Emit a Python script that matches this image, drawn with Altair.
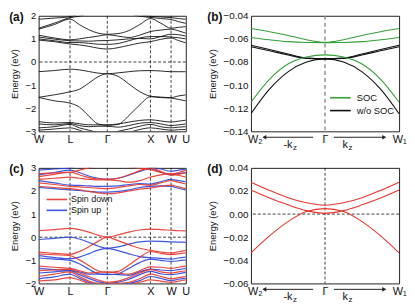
import altair as alt
import pandas as pd

# ---------------- data ----------------
# k-path coordinate (W-L-Γ-X-W-U) and high-symmetry points
K_PATH = [0, 16, 32, 41.5, 51, 60.5, 70, 81, 92, 103, 114, 124.5, 135, 142.5, 150]
HS_POS = [0, 32, 70, 114, 135, 150]
HS_LABELS = ["W", "L", "Γ", "X", "W", "U"]
HS_GUIDES = [32, 70, 114, 135]

# (a) bands, energy in eV along K_PATH
A_BANDS = [
    [-0.42, -0.37, -0.31, -0.34, -0.41, -0.48, -0.51, -0.47, -0.42, -0.38, -0.37, -0.39, -0.42, -0.42, -0.42],
    [-1.53, -1.42, -1.29, -1.18, -0.92, -0.64, -0.51, -0.62, -0.95, -1.28, -1.48, -1.52, -1.54, -1.47, -1.42],
    [-1.53, -1.68, -1.78, -1.95, -2.33, -2.68, -2.74, -2.70, -2.32, -1.86, -1.50, -1.54, -1.56, -1.62, -1.68],
    [-2.58, -2.64, -2.62, -2.67, -2.72, -2.72, -2.72, -2.68, -2.60, -2.53, -2.50, -2.55, -2.60, -2.56, -2.52],
    [-2.68, -2.72, -2.66, -2.75, -2.80, -2.78, -2.78, -2.82, -2.75, -2.65, -2.62, -2.68, -2.75, -2.72, -2.68],
    [-2.85, -2.80, -2.70, -2.85, -2.95, -3.05, -3.10, -3.00, -2.90, -2.78, -2.70, -2.80, -2.85, -2.82, -2.80],
    [-2.95, -2.90, -2.85, -2.95, -3.10, -3.20, -3.25, -3.15, -3.05, -2.92, -2.85, -2.90, -2.95, -2.93, -2.92],
    [0.95, 0.88, 0.78, 0.74, 0.68, 0.60, 0.56, 0.62, 0.72, 0.82, 0.88, 0.98, 1.04, 0.93, 0.83],
    [1.00, 0.92, 0.84, 0.84, 0.81, 0.77, 0.76, 0.80, 0.92, 1.04, 1.10, 1.10, 1.08, 1.05, 1.00],
    [1.08, 0.99, 0.92, 0.91, 0.90, 0.92, 0.93, 0.96, 1.00, 1.02, 1.00, 1.10, 1.20, 1.18, 1.12],
    [1.16, 1.04, 0.96, 1.00, 1.06, 1.12, 1.18, 1.12, 1.06, 1.16, 1.32, 1.38, 1.42, 1.35, 1.25],
    [1.42, 1.62, 1.86, 1.62, 1.40, 1.25, 1.20, 1.23, 1.36, 1.62, 1.88, 1.68, 1.46, 1.50, 1.53],
    [1.46, 1.68, 1.92, 1.98, 2.10, 2.25, 2.35, 2.25, 2.10, 1.98, 1.93, 1.88, 1.84, 1.75, 1.67],
    [1.85, 1.90, 1.96, 2.10, 2.30, 2.45, 2.50, 2.40, 2.20, 2.05, 1.98, 1.95, 1.92, 1.88, 1.85],
]

# (c) spin-resolved bands along K_PATH
C_SPIN_DOWN = [
    [0.28, 0.33, 0.38, 0.33, 0.22, 0.09, 0.00, 0.10, 0.22, 0.31, 0.35, 0.33, 0.30, 0.28, 0.27],
    [-0.64, -0.70, -0.74, -0.62, -0.42, -0.18, 0.00, -0.15, -0.32, -0.48, -0.57, -0.64, -0.69, -0.63, -0.57],
    [-0.72, -0.76, -0.80, -0.98, -1.22, -1.45, -1.52, -1.48, -1.20, -0.88, -0.62, -0.70, -0.75, -0.72, -0.68],
    [-1.25, -1.30, -1.35, -1.45, -1.55, -1.52, -1.50, -1.55, -1.60, -1.45, -1.28, -1.30, -1.35, -1.30, -1.25],
    [-1.45, -1.42, -1.38, -1.55, -1.70, -1.85, -1.95, -1.90, -1.75, -1.55, -1.40, -1.50, -1.55, -1.50, -1.45],
    [-1.70, -1.60, -1.50, -1.70, -1.90, -2.00, -2.02, -2.00, -1.95, -1.80, -1.60, -1.70, -1.80, -1.75, -1.70],
    [-1.90, -1.85, -1.75, -1.85, -2.00, -2.10, -2.10, -2.10, -2.05, -1.95, -1.85, -1.90, -1.95, -1.90, -1.85],
    [2.20, 2.15, 2.10, 2.05, 1.98, 1.92, 1.88, 1.92, 2.00, 2.08, 2.12, 2.20, 2.25, 2.18, 2.10],
    [2.35, 2.28, 2.20, 2.18, 2.15, 2.12, 2.10, 2.15, 2.22, 2.28, 2.25, 2.35, 2.45, 2.38, 2.30],
    [2.50, 2.55, 2.60, 2.55, 2.50, 2.48, 2.48, 2.45, 2.38, 2.45, 2.60, 2.70, 2.75, 2.68, 2.60],
    [2.62, 2.72, 2.82, 2.70, 2.58, 2.52, 2.50, 2.55, 2.70, 2.88, 3.00, 2.85, 2.68, 2.72, 2.78],
    [2.75, 2.78, 2.80, 2.90, 3.00, 3.10, 3.20, 3.15, 3.05, 2.98, 2.92, 2.80, 2.72, 2.80, 2.90],
]
C_SPIN_UP = [
    [-0.10, -0.05, 0.00, -0.08, -0.22, -0.38, -0.48, -0.42, -0.30, -0.20, -0.17, -0.18, -0.20, -0.21, -0.22],
    [-0.80, -0.88, -0.93, -0.86, -0.72, -0.56, -0.48, -0.58, -0.72, -0.84, -0.88, -0.92, -0.95, -0.90, -0.86],
    [-0.90, -0.95, -1.00, -1.15, -1.38, -1.58, -1.62, -1.58, -1.35, -1.10, -0.95, -1.00, -1.05, -1.02, -0.98],
    [-1.35, -1.40, -1.45, -1.50, -1.60, -1.60, -1.60, -1.62, -1.65, -1.50, -1.38, -1.42, -1.45, -1.40, -1.35],
    [-1.55, -1.50, -1.45, -1.62, -1.78, -1.92, -2.00, -1.95, -1.82, -1.62, -1.48, -1.58, -1.62, -1.58, -1.52],
    [-1.80, -1.72, -1.60, -1.78, -1.95, -2.05, -2.08, -2.05, -2.00, -1.88, -1.70, -1.78, -1.88, -1.82, -1.78],
    [2.15, 2.10, 2.05, 2.02, 1.98, 1.95, 1.95, 1.98, 2.05, 2.15, 2.20, 2.22, 2.20, 2.12, 2.05],
    [2.45, 2.35, 2.25, 2.24, 2.22, 2.20, 2.20, 2.22, 2.28, 2.32, 2.30, 2.40, 2.50, 2.45, 2.40],
    [2.70, 2.80, 2.90, 2.80, 2.65, 2.55, 2.50, 2.55, 2.68, 2.85, 2.95, 2.82, 2.70, 2.75, 2.80],
    [2.90, 2.95, 3.00, 3.10, 3.20, 3.30, 3.35, 3.30, 3.20, 3.10, 3.05, 2.95, 2.85, 2.90, 2.95],
]
SPIN_NAMES = ["Spin down", "Spin up"]

# (b), (d): zoom around Γ along W2-Γ-W1
K_ZOOM = [-1, -0.75, -0.5, -0.25, 0, 0.25, 0.5, 0.75, 1]
ZOOM_POS = [-0.95, 0, 1]
ZOOM_LABELS = ["W₂", "Γ", "W₁"]
B_SOC = [
    [-0.0510, -0.0538, -0.0570, -0.0608, -0.0630, -0.0608, -0.0570, -0.0538, -0.0510],
    [-0.0588, -0.0608, -0.0624, -0.0631, -0.0632, -0.0631, -0.0624, -0.0608, -0.0588],
    [-0.1148, -0.0950, -0.0818, -0.0757, -0.0738, -0.0757, -0.0818, -0.0950, -0.1148],
]
B_NOSOC = [
    [-0.0655, -0.0692, -0.0730, -0.0766, -0.0773, -0.0766, -0.0730, -0.0692, -0.0655],
    [-0.0668, -0.0703, -0.0739, -0.0769, -0.0773, -0.0769, -0.0739, -0.0703, -0.0668],
    [-0.1248, -0.1035, -0.0885, -0.0800, -0.0773, -0.0800, -0.0885, -0.1035, -0.1248],
]
SOC_NAMES = ["SOC", "w/o SOC"]
D_BANDS = [
    [0.0276, 0.0205, 0.0142, 0.0098, 0.0077, 0.0098, 0.0142, 0.0205, 0.0276],
    [0.0209, 0.0140, 0.0080, 0.0030, 0.0006, 0.0030, 0.0080, 0.0140, 0.0209],
    [-0.0335, -0.0188, -0.0065, 0.0022, 0.0047, 0.0022, -0.0065, -0.0188, -0.0335],
]
ARROW_FROM = [-0.16, 0.12]
ARROW_TO = [-0.82, 0.80]
ARROW_HEAD = ["triangle-left", "triangle-right"]
KZ_POS = [-0.44, 0.31]
KZ_TEXT = ["-k", "k"]

# ---------------- style ----------------
FONT = "Liberation Sans"
INK = "#111111"
GREEN = "#36a03a"
RED = "#e8352b"
BLUE = "#2b45d8"
WL, WR, H = 149, 150, 117


def to_long(bands, kgrid, series):
    rows = []
    for i, band in enumerate(bands):
        for k, e in zip(kgrid, band):
            rows.append({"k": k, "E": e, "band": f"{series}-{i}", "series": series})
    return rows


def label_expr(values, labels):
    expr = "''"
    for v, lab in reversed(list(zip(values, labels))):
        expr = f"datum.value == {v} ? '{lab}' : ({expr})"
    return expr


def x_enc(field, domain, values, labels):
    return alt.X(
        f"{field}:Q",
        scale=alt.Scale(domain=domain, nice=False, zero=False),
        axis=alt.Axis(values=values, labelExpr=label_expr(values, labels), title=None,
                      grid=False, ticks=False, domain=False, labelFlush=False,
                      labelOverlap=False, labelFontSize=11, labelPadding=2,
                      labelFont=FONT, labelColor=INK),
    )


def y_enc(domain, values, fmt, fs):
    return alt.Y(
        "E:Q",
        scale=alt.Scale(domain=domain, nice=False, zero=False),
        axis=alt.Axis(values=values, format=fmt, title="Energy (eV)", titleFontSize=9.5,
                      titleFontWeight="normal", titleFont=FONT, titleColor=INK, titlePadding=6,
                      grid=False, ticks=False, domain=False, labelFontSize=fs, labelPadding=3,
                      labelFlush=False, labelOverlap=False, labelFont=FONT, labelColor=INK),
    )


def panel_title(t):
    return alt.TitleParams(text=t, anchor="start", frame="bounds", orient="top", offset=-13,
                           fontSize=12, fontWeight="bold", font=FONT, color=INK)


def dashed(color=INK, width=0.8, dash=(3, 2)):
    return dict(color=color, strokeWidth=width, strokeDash=list(dash))


def line_legend(x, y, size, half_len, label_size, label_gap, row_pad):
    # horizontal line symbol, longer than the nominal symbol box
    r = size ** 0.5 / 2
    overhang = (half_len - 1) * r
    return alt.Legend(orient="none", legendX=x + overhang, legendY=y, title=None,
                      symbolType=f"M-{half_len},0H{half_len}", symbolSize=size,
                      symbolStrokeWidth=1.6, symbolFillColor="transparent",
                      labelFontSize=label_size, labelFont=FONT, labelColor=INK,
                      labelOffset=label_gap + overhang, rowPadding=row_pad, padding=0)


# ---------------- panels (a) and (c) ----------------
def path_panel(df, y, title, color=None):
    xk = x_enc("k", [0, 150], HS_POS, HS_LABELS)
    guides = alt.Chart(pd.DataFrame({"k": HS_GUIDES})).mark_rule(**dashed()).encode(x=xk)
    zero = alt.Chart(pd.DataFrame({"E": [0]})).mark_rule(**dashed()).encode(y=y)
    if color is None:
        lines = alt.Chart(df).mark_line(color=INK, strokeWidth=0.9, interpolate="monotone",
                                        clip=True).encode(x=xk, y=y, detail="band:N")
    else:
        lines = alt.Chart(df).mark_line(strokeWidth=1.2, interpolate="monotone", clip=True,
                                        opacity=0.9).encode(x=xk, y=y, detail="band:N", color=color)
    return alt.layer(guides, zero, lines).properties(width=WL, height=H, title=panel_title(title))


df_a = pd.DataFrame(to_long(A_BANDS, K_PATH, "a"))
panel_a = path_panel(df_a, y_enc([-3, 2], [-3, -2, -1, 0, 1, 2], "d", 9.5), "(a)")

df_c = pd.DataFrame(to_long(C_SPIN_UP, K_PATH, SPIN_NAMES[1]) +
                    to_long(C_SPIN_DOWN, K_PATH, SPIN_NAMES[0]))
color_c = alt.Color("series:N", scale=alt.Scale(domain=SPIN_NAMES, range=[RED, BLUE]),
                    legend=line_legend(7, 27, 64, 2.6, 9, 3, 1))
panel_c = path_panel(df_c, y_enc([-2, 3], [-2, -1, 0, 1, 2, 3], "d", 9.5), "(c)", color=color_c)


# ---------------- panels (b) and (d) ----------------
def zoom_panel(df, y, title, color=None, line_color=None, guide_style=None):
    xk = x_enc("k", [-1, 1], ZOOM_POS, ZOOM_LABELS)
    xk2 = x_enc("k2", [-1, 1], ZOOM_POS, ZOOM_LABELS)
    guide = alt.Chart(pd.DataFrame({"k": [0]})).mark_rule(**guide_style).encode(x=xk)
    layers = [guide]
    if color is None:
        zero = alt.Chart(pd.DataFrame({"E": [0]})).mark_rule(**dashed()).encode(y=y)
        layers.append(zero)
        lines = alt.Chart(df).mark_line(color=line_color, strokeWidth=1.1, interpolate="monotone",
                                        clip=True).encode(x=xk, y=y, detail="band:N")
    else:
        lines = alt.Chart(df).mark_line(strokeWidth=1.1, interpolate="monotone",
                                        clip=True).encode(x=xk, y=y, detail="band:N", color=color)
    layers.append(lines)
    arrows = pd.DataFrame({"k": ARROW_FROM, "k2": ARROW_TO, "head": ARROW_HEAD})
    layers.append(alt.Chart(arrows).mark_rule(color="#222222", strokeWidth=1).encode(
        x=xk, x2="k2:Q", y=alt.value(H + 6)))
    layers.append(alt.Chart(arrows).mark_point(filled=True, size=22, color="#222222", opacity=1).encode(
        x=xk2, y=alt.value(H + 6), shape=alt.Shape("head:N", scale=None, legend=None)))
    kz = pd.DataFrame({"k": KZ_POS, "t": KZ_TEXT})
    layers.append(alt.Chart(kz).mark_text(align="right", baseline="middle", fontSize=11, font=FONT,
                                          color=INK).encode(x=xk, y=alt.value(H + 14), text="t:N"))
    layers.append(alt.Chart(kz).mark_text(align="left", baseline="middle", fontSize=8, font=FONT,
                                          color=INK, dx=0.5, dy=3).encode(
        x=xk, y=alt.value(H + 14), text=alt.value("z")))
    return alt.layer(*layers).properties(width=WR, height=H, title=panel_title(title))


df_b = pd.DataFrame(to_long(B_NOSOC, K_ZOOM, SOC_NAMES[1]) + to_long(B_SOC, K_ZOOM, SOC_NAMES[0]))
color_b = alt.Color("series:N", scale=alt.Scale(domain=SOC_NAMES, range=[GREEN, INK]),
                    legend=line_legend(79, 77, 100, 2.1, 9.5, 5, 2))
panel_b = zoom_panel(df_b, y_enc([-0.14, -0.04], [-0.14, -0.12, -0.10, -0.08, -0.06, -0.04], ".2f", 10),
                     "(b)", color=color_b, guide_style=dashed("#8a8a8a", 1.4, (4, 3)))

df_d = pd.DataFrame(to_long(D_BANDS, K_ZOOM, "d"))
panel_d = zoom_panel(df_d, y_enc([-0.06, 0.04], [-0.06, -0.04, -0.02, 0.0, 0.02, 0.04], ".2f", 10),
                     "(d)", line_color=RED, guide_style=dashed())

chart = (
    alt.concat(panel_a, panel_b, panel_c, panel_d, columns=2, spacing={"row": 9, "column": 16})
    .resolve_scale(color="independent")
    .resolve_legend(color="independent")
    .properties(padding=0)
    .configure(font=FONT)
    .configure_view(stroke="#222222", strokeWidth=1)
)

chart.save("out.html", embed_options={"renderer": "svg", "actions": False})
